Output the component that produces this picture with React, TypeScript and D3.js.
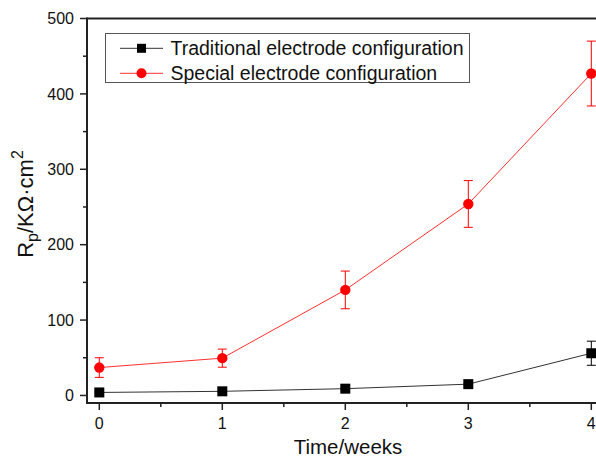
import React from "react";
import * as d3 from "d3";

const weeks = [0, 1, 2, 3, 4];
const traditional = [4, 5.5, 9, 15, 56];
const traditionalErr = [1, 1, 1.5, 2, 16];
const special = [37, 49.5, 140, 254, 427];
const specialErr = [13, 12, 25, 31, 43];
const yTicks = [0, 100, 200, 300, 400, 500];
const yMinor = [50, 150, 250, 350, 450];
const xTicks = [0, 1, 2, 3, 4];
const xMinor = [0.5, 1.5, 2.5, 3.5];
const legendLabels = ["Traditional electrode configuration", "Special electrode configuration"];

const W = 596;
const H = 457;
const left = 87;
const top = 18.5;
const bottom = 403;

export default function App() {
  const x = d3.scaleLinear().domain([-0.1, 4.1]).range([left, left + 4.2 * 123]);
  const y = d3.scaleLinear().domain([-10, 500]).range([bottom, top]);
  const line = d3
    .line<number>()
    .x((_, i) => x(weeks[i]))
    .y((d) => y(d));
  const font = "'Liberation Sans', Arial, sans-serif";

  const series = [
    { vals: traditional, err: traditionalErr, color: "#000", lineColor: "#333", shape: "square" },
    { vals: special, err: specialErr, color: "#ff0000", lineColor: "#ff3030", shape: "circle" },
  ];

  return (
    <svg
      width={W}
      height={H}
      style={{ position: "absolute", left: 0, top: 0, background: "#fff", fontFamily: font }}
    >
      {series.map((s, si) => (
        <g key={si}>
          <path d={line(s.vals) || ""} fill="none" stroke={s.lineColor} strokeWidth={1} />
          {s.vals.map((v, i) => {
            const cx = x(weeks[i]);
            const y1 = y(v + s.err[i]);
            const y2 = y(v - s.err[i]);
            return (
              <g key={i} stroke={s.color} strokeWidth={1}>
                <line x1={cx} x2={cx} y1={y1} y2={y2} />
                <line x1={cx - 4.5} x2={cx + 4.5} y1={y1} y2={y1} />
                <line x1={cx - 4.5} x2={cx + 4.5} y1={y2} y2={y2} />
              </g>
            );
          })}
          {s.vals.map((v, i) =>
            s.shape === "square" ? (
              <rect key={i} x={x(weeks[i]) - 5} y={y(v) - 5} width={10} height={10} fill={s.color} />
            ) : (
              <circle key={i} cx={x(weeks[i])} cy={y(v)} r={5.2} fill={s.color} />
            )
          )}
        </g>
      ))}

      <line x1={left} x2={W + 10} y1={top} y2={top} stroke="#222" strokeWidth={2} />
      <line x1={left} x2={left} y1={top - 1} y2={bottom + 1} stroke="#222" strokeWidth={2} />
      <line x1={left - 1} x2={W + 10} y1={bottom} y2={bottom} stroke="#222" strokeWidth={2} />

      {yTicks.map((t) => (
        <g key={t}>
          <line x1={left - 7} x2={left} y1={y(t)} y2={y(t)} stroke="#222" strokeWidth={1.5} />
          <text x={left - 13} y={y(t)} dy="0.36em" textAnchor="end" fontSize={16} fill="#111">
            {t}
          </text>
        </g>
      ))}
      {yMinor.map((t) => (
        <line key={t} x1={left - 4} x2={left} y1={y(t)} y2={y(t)} stroke="#222" strokeWidth={1.5} />
      ))}

      {xTicks.map((t) => (
        <g key={t}>
          <line x1={x(t)} x2={x(t)} y1={bottom} y2={bottom + 7} stroke="#222" strokeWidth={1.5} />
          <text x={x(t)} y={bottom + 26} textAnchor="middle" fontSize={16} fill="#111">
            {t}
          </text>
        </g>
      ))}
      {xMinor.map((t) => (
        <line key={t} x1={x(t)} x2={x(t)} y1={bottom} y2={bottom + 4} stroke="#222" strokeWidth={1.5} />
      ))}

      <text x={348} y={454} textAnchor="middle" fontSize={20.5} fill="#111">
        Time/weeks
      </text>
      <text transform="translate(33,204) rotate(-90)" textAnchor="middle" fontSize={22} fill="#111">
        R<tspan fontSize={16} dy={5}>p</tspan>
        <tspan dy={-5}>/KΩ·cm</tspan>
        <tspan fontSize={16} dy={-10}>2</tspan>
      </text>

      <rect x={105.5} y={33.5} width={364} height={49} fill="#fff" stroke="#555" strokeWidth={1} />
      {series.map((s, i) => {
        const ly = 48.3 + i * 25;
        return (
          <g key={i}>
            <line x1={120} x2={163} y1={ly} y2={ly} stroke={s.lineColor} strokeWidth={1} />
            {s.shape === "square" ? (
              <rect x={141.5 - 4.5} y={ly - 4.5} width={9} height={9} fill={s.color} />
            ) : (
              <circle cx={141.5} cy={ly} r={5} fill={s.color} />
            )}
            <text x={170.5} y={ly + 6.8} fontSize={19.5} fill="#111">
              {legendLabels[i]}
            </text>
          </g>
        );
      })}
    </svg>
  );
}
